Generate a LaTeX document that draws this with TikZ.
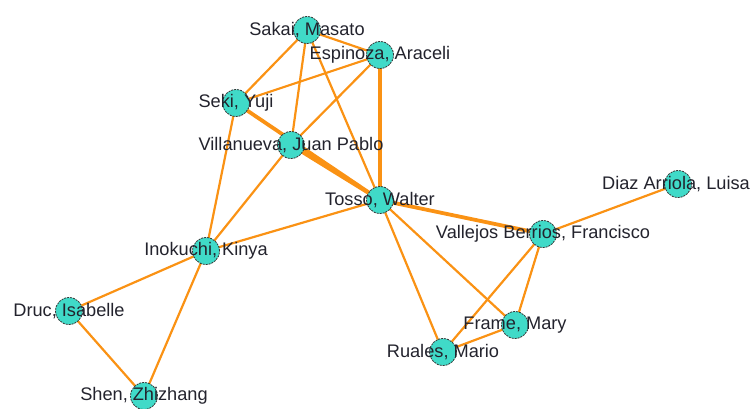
\documentclass[tikz,border=0pt]{standalone}
\usepackage{fontspec}
\setmainfont{Liberation Sans}
\definecolor{edgeor}{RGB}{250,146,20}
\definecolor{nodefill}{RGB}{64,218,200}
\definecolor{txt}{RGB}{35,35,45}
\pgfdeclarelayer{background}
\pgfsetlayers{background,main}
\begin{document}
\begin{tikzpicture}[x=1pt,y=-1pt,
  vert/.style={circle,draw=black!80,dash pattern=on 2pt off 1pt,fill=nodefill,minimum size=27pt,inner sep=0pt,line width=0.8pt},
  lab/.style={font=\fontsize{18.2}{19}\selectfont,text=txt,inner sep=0pt},
  edge/.style={draw=edgeor,line width=2.2pt},
  thick edge/.style={draw=edgeor,line width=3.8pt}]
\useasboundingbox (0,0) rectangle (752,408);
\node[vert] (sak) at (307,30) {};
\node[vert] (esp) at (380,55) {};
\node[vert] (sek) at (236,103) {};
\node[vert] (vil) at (291,145) {};
\node[vert] (tos) at (380,200) {};
\node[vert] (ino) at (206,251) {};
\node[vert] (dru) at (69,311) {};
\node[vert] (she) at (144,396) {};
\node[vert] (val) at (543,234) {};
\node[vert] (dia) at (678,184) {};
\node[vert] (fra) at (515,325) {};
\node[vert] (rua) at (443,352) {};
\node[lab] (lsak) at (sak) {Sakai, Masato};
\node[lab] (lesp) at (esp) {Espinoza, Araceli};
\node[lab] (lsek) at (sek) {Seki, Yuji};
\node[lab] (lvil) at (vil) {Villanueva, Juan Pablo};
\node[lab] (ltos) at (tos) {Tosso, Walter};
\node[lab] (lino) at (ino) {Inokuchi, Kinya};
\node[lab] (ldru) at (dru) {Druc, Isabelle};
\node[lab] (lshe) at (she) {Shen, Zhizhang};
\node[lab] (lval) at (val) {Vallejos Berrios, Francisco};
\node[lab] (ldia) at ([xshift=-2pt]dia.center) {Diaz Arriola, Luisa};
\node[lab] (lfra) at (fra) {Frame, Mary};
\node[lab] (lrua) at (rua) {Ruales, Mario};
\begin{pgfonlayer}{background}
\path[edge] (sak.center) -- (esp.center);
\path[edge] (sak.center) -- (sek.center);
\path[edge] (sak.center) -- (vil.center);
\path[edge] (sak.center) -- (tos.center);
\path[edge] (esp.center) -- (sek.center);
\path[edge] (esp.center) -- (vil.center);
\path[thick edge] (esp.center) -- (tos.center);
\path[thick edge] (sek.center) -- (tos.center);
\path[thick edge] (vil.center) -- (tos.center);
\path[edge] (sek.center) -- (ino.center);
\path[edge] (vil.center) -- (ino.center);
\path[edge] (tos.center) -- (ino.center);
\path[thick edge] (tos.center) -- (val.center);
\path[edge] (tos.center) -- (rua.center);
\path[edge] (tos.center) -- (fra.center);
\path[edge] (val.center) -- (dia.center);
\path[edge] (val.center) -- (rua.center);
\path[edge] (val.center) -- (fra.center);
\path[edge] (fra.center) -- (rua.center);
\path[edge] (ino.center) -- (dru.center);
\path[edge] (ino.center) -- (she.center);
\path[edge] (dru.center) -- (she.center);
\end{pgfonlayer}
\end{tikzpicture}
\end{document}
